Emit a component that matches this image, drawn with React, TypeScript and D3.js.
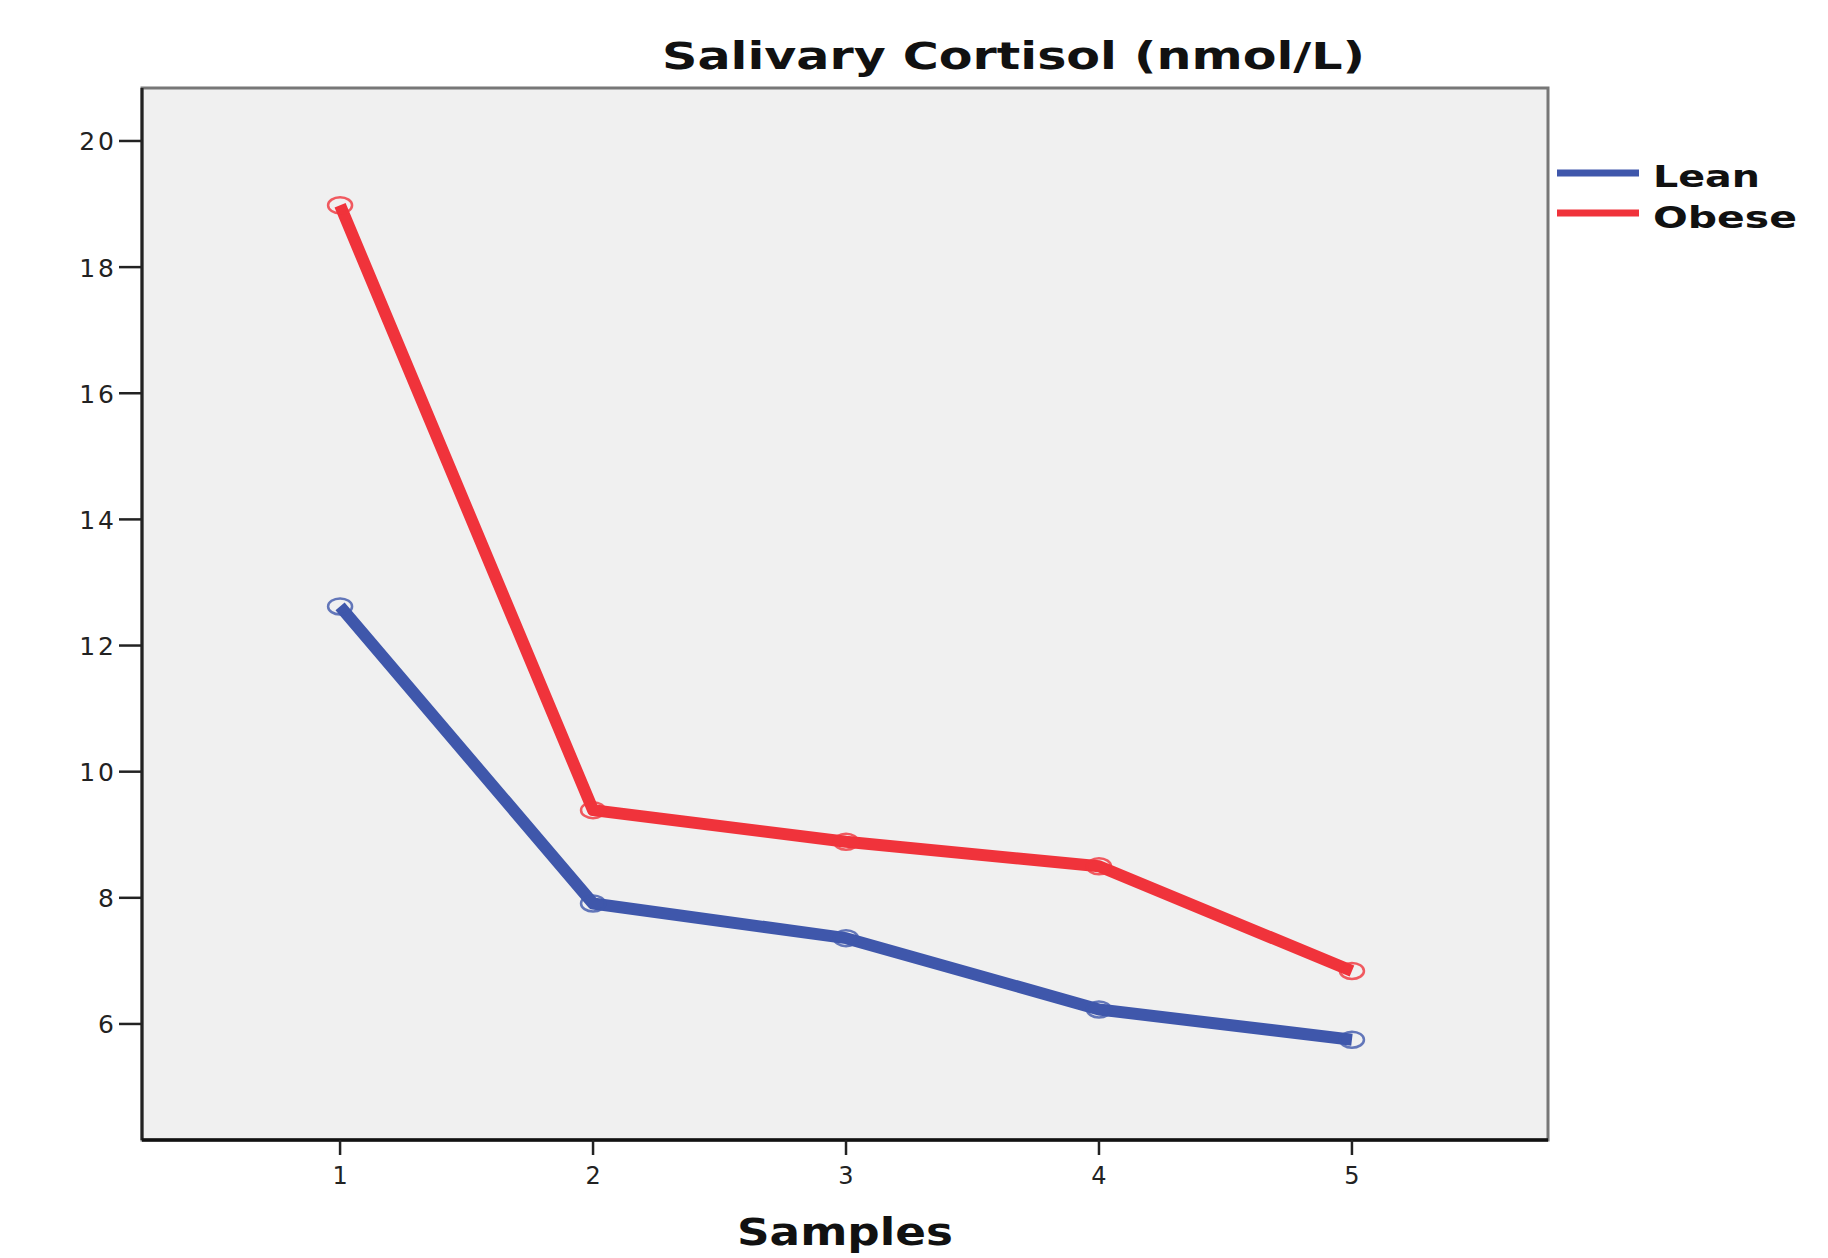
import React from "react";
import * as d3 from "d3";

const samples = [1, 2, 3, 4, 5];
const leanValues = [12.62, 7.91, 7.36, 6.23, 5.75];
const obeseValues = [18.98, 9.39, 8.89, 8.5, 6.84];
const yTicks = [6, 8, 10, 12, 14, 16, 18, 20];
const seriesNames = ["Lean", "Obese"];
const seriesColors = ["#3f57ab", "#f0333b"];
const titleText = "Salivary Cortisol (nmol/L)";
const xLabel = "Samples";

const W = 1828;
const H = 1258;
const plot = { left: 142, right: 1548, top: 88, bottom: 1140 };

export default function App() {
  const x = d3.scaleLinear().domain([0.217, 5.775]).range([plot.left, plot.right]);
  const y = d3.scaleLinear().domain([4.16, 20.84]).range([plot.bottom, plot.top]);
  const line = d3
    .line<number>()
    .x((_, i) => x(samples[i]))
    .y((d) => y(d));
  const series = [leanValues, obeseValues];

  return (
    <svg
      width={W}
      height={H}
      style={{ position: "absolute", left: 0, top: 0, background: "#fff" }}
      fontFamily="'DejaVu Sans', sans-serif"
    >
      <rect
        x={plot.left}
        y={plot.top}
        width={plot.right - plot.left}
        height={plot.bottom - plot.top}
        fill="#f0f0f0"
        stroke="#777"
        strokeWidth={3}
      />
      <line x1={plot.left} x2={plot.left} y1={plot.top} y2={plot.bottom} stroke="#222" strokeWidth={3} />
      <line x1={plot.left} x2={plot.right} y1={plot.bottom} y2={plot.bottom} stroke="#111" strokeWidth={3.5} />

      {yTicks.map((t) => (
        <g key={t}>
          <line x1={plot.left - 23} x2={plot.left} y1={y(t)} y2={y(t)} stroke="#222" strokeWidth={2.5} />
          <text
            x={117}
            y={y(t) + 9.5}
            textAnchor="end"
            fontSize={25}
            letterSpacing={3}
            fill="#222"
          >
            {t}
          </text>
        </g>
      ))}

      {samples.map((s) => (
        <g key={s}>
          <line x1={x(s)} x2={x(s)} y1={plot.bottom} y2={plot.bottom + 15} stroke="#222" strokeWidth={2.5} />
          <text x={x(s)} y={plot.bottom + 44} textAnchor="middle" fontSize={24} fill="#222">
            {s}
          </text>
        </g>
      ))}

      {series.map((vals, si) => (
        <g key={si}>
          <path
            d={line(vals) || ""}
            fill="none"
            stroke={seriesColors[si]}
            strokeWidth={12}
            strokeLinejoin="round"
          />
          {vals.map((v, i) => (
            <ellipse
              key={i}
              cx={x(samples[i])}
              cy={y(v)}
              rx={12}
              ry={8}
              fill="none"
              stroke={seriesColors[si]}
              strokeOpacity={0.8}
              strokeWidth={2.5}
            />
          ))}
        </g>
      ))}

      <text x={662} y={69} fontSize={37} fontWeight="bold" fill="#111" textLength={703} lengthAdjust="spacingAndGlyphs">
        {titleText}
      </text>
      <text x={737} y={1245} fontSize={37} fontWeight="bold" fill="#111" textLength={216} lengthAdjust="spacingAndGlyphs">
        {xLabel}
      </text>

      {seriesNames.map((n, i) => (
        <g key={n}>
          <line x1={1557} x2={1639} y1={173 + i * 40} y2={173 + i * 40} stroke={seriesColors[i]} strokeWidth={7} />
          <text
            x={1653}
            y={187 + i * 41}
            fontSize={31}
            fontWeight="bold"
            fill="#111"
            textLength={i === 0 ? 107 : 144}
            lengthAdjust="spacingAndGlyphs"
          >
            {n}
          </text>
        </g>
      ))}
    </svg>
  );
}
